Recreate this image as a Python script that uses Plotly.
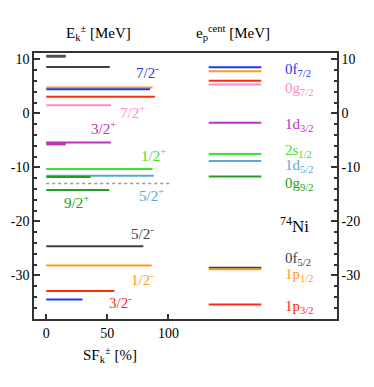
import plotly.graph_objects as go

# Left panel: quasiparticle energies E_k (MeV) and spectroscopic factors SF_k (%)
left_e = [10.6, 8.6, 4.8, 4.5, 3.1, 1.5, -5.4, -5.6, -10.3, -11.55, -11.8, -14.2,
          -24.6, -28.2, -32.9, -34.5]
left_sf = [16, 52, 87, 85, 89, 53, 53, 16, 87, 88, 36.5, 51.5, 79.5, 86.3, 55.8, 29.7]
left_col = ["#505050", "#404040", "#ff9a20", "#1a3cf0", "#ff2a10", "#ff8cc0",
            "#c030c0", "#c030c0", "#40e030", "#5aa8d0", "#20a020", "#20a020",
            "#404040", "#ff9a20", "#ff2a10", "#1a3cf0"]
left_w = [3, 2, 2, 2, 2, 2, 2, 3.5, 2, 2, 2, 2, 2, 2, 2, 2]

# Right panel: centroid single-particle energies e_p^cent (MeV)
right_e = [8.57, 7.83, 6.05, 5.37, -1.74, -7.54, -8.83, -11.67, -28.6, -28.9, -35.4]
right_col = ["#1a3cf0", "#ff9a20", "#ff2a10", "#ff8cc0", "#c030c0", "#40e030",
             "#5aa8d0", "#20a020", "#404040", "#ff9a20", "#ff2a10"]

fermi = -13.0

# level labels
jp_labels = ["7/2<sup>-</sup>", "7/2<sup>+</sup>", "3/2<sup>+</sup>", "1/2<sup>+</sup>",
             "5/2<sup>+</sup>", "9/2<sup>+</sup>", "5/2<sup>-</sup>", "1/2<sup>-</sup>",
             "3/2<sup>-</sup>"]
jp_x = [82.5, 71, 46.5, 87.4, 85.8, 24.5, 79, 79, 61]
jp_y = [7.65, 0.24, -2.7, -7.7, -15.1, -16.4, -22.2, -30.6, -35]
jp_col = ["#1a3cf0", "#ff8cc0", "#c030c0", "#40e030", "#5aa8d0", "#20a020",
          "#404040", "#ff9a20", "#ff2a10"]

orb_labels = ["0f<sub>7/2</sub>", "0g<sub>7/2</sub>", "1d<sub>3/2</sub>", "2s<sub>1/2</sub>",
              "1d<sub>5/2</sub>", "0g<sub>9/2</sub>", "0f<sub>5/2</sub>", "1p<sub>1/2</sub>",
              "1p<sub>3/2</sub>"]
orb_y = [8.0, 4.6, -2.1, -6.9, -9.8, -13.0, -26.9, -30.0, -35.8]
orb_col = ["#1a3cf0", "#ff8cc0", "#c030c0", "#40e030", "#5aa8d0", "#20a020",
           "#404040", "#ff9a20", "#ff2a10"]

y_ticks = [10, 0, -10, -20, -30]

FONT = "Liberation Serif, serif"
fig = go.Figure()

for e, sf, c, w in zip(left_e, left_sf, left_col, left_w):
    fig.add_trace(go.Scatter(x=[0, sf], y=[e, e], mode="lines",
                             line=dict(color=c, width=w), showlegend=False))

fig.add_trace(go.Scatter(x=[0, 101], y=[fermi, fermi], mode="lines",
                         line=dict(color="#999999", width=1.5, dash="dot"),
                         showlegend=False))

for e, c in zip(right_e, right_col):
    fig.add_trace(go.Scatter(x=[133, 176], y=[e, e], mode="lines",
                             line=dict(color=c, width=2), showlegend=False))

# dummy trace on right axis so it is drawn
fig.add_trace(go.Scatter(x=[None], y=[None], yaxis="y2", showlegend=False))

ann = []
for t, x, y, c in zip(jp_labels, jp_x, jp_y, jp_col):
    ann.append(dict(x=x, y=y, text=t, showarrow=False, xanchor="center",
                    font=dict(color=c, size=15, family=FONT)))
for t, y, c in zip(orb_labels, orb_y, orb_col):
    ann.append(dict(x=194, y=y, text=t, showarrow=False, xanchor="left",
                    font=dict(color=c, size=15, family=FONT)))
ann.append(dict(x=190, y=-20.6, text="<sup>74</sup>Ni", showarrow=False,
                xanchor="left", font=dict(color="black", size=17, family=FONT)))
ann.append(dict(x=42.5, y=1.075, yref="paper", yanchor="middle",
                text="E<sub>k</sub><sup>±</sup> [MeV]",
                showarrow=False, font=dict(size=15, family=FONT, color="black")))
ann.append(dict(x=152.8, y=1.075, yref="paper", yanchor="middle",
                text="e<sub>p</sub><sup>cent</sup> [MeV]",
                showarrow=False, font=dict(size=15, family=FONT, color="black")))
ann.append(dict(x=52, y=-0.135, yref="paper", yanchor="middle",
                text="SF<sub>k</sub><sup>±</sup> [%]",
                showarrow=False, font=dict(size=15, family=FONT, color="black")))

yr = [-38.1, 11.2]
axis_y = dict(range=yr, showline=True, linecolor="#333333", linewidth=1.5,
              ticks="inside", ticklen=6, tickwidth=1.5, tickcolor="#333333",
              tickvals=y_ticks, ticktext=[str(v) for v in y_ticks],
              showgrid=False, zeroline=False, automargin=False,
              minor=dict(dtick=2, ticks="inside", ticklen=3, tickcolor="#333333"),
              tickfont=dict(size=14, family=FONT, color="black"))

# the page body adds an 8px offset, so the figure is sized to fit inside the window
fig.update_layout(
    width=366, height=379,
    margin=dict(l=26, r=37, t=45, b=68),
    font=dict(family=FONT, color="black"),
    plot_bgcolor="white", paper_bgcolor="white",
    xaxis=dict(range=[-10, 238], showline=True, linecolor="#333333", linewidth=1.5,
               mirror=True, ticks="inside", ticklen=5, tickwidth=1.5,
               tickcolor="#333333", tickvals=[0, 50, 100], showgrid=False,
               zeroline=False, automargin=False,
               tickfont=dict(size=14, family=FONT, color="black")),
    yaxis=axis_y,
    yaxis2=dict(axis_y, overlaying="y", side="right"),
    annotations=ann,
)

fig.write_html("out.html")
